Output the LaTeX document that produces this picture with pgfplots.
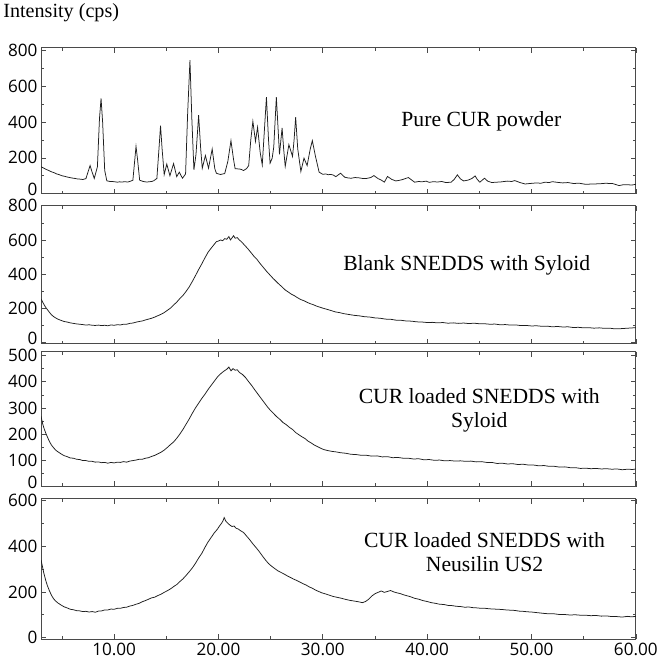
\documentclass[border=0pt]{standalone}
\usepackage{fontspec}
\setmainfont{Liberation Serif}
\newfontfamily\labelfont{Liberation Serif}
\newfontfamily\tickfont{Open Sans}
\usepackage{pgfplots}
\pgfplotsset{compat=1.18}
\definecolor{frame}{HTML}{4A4A4A}
\definecolor{trace}{HTML}{1E1E1E}

\newcommand{\zerolabel}{\raisebox{4pt}[\height][\depth]{0}}

\pgfplotsset{
  xrdpanel/.style={
    scale only axis, width=591pt, anchor=north west,
    xmin=3, xmax=60,
    xtick={10,20,...,60}, minor xtick={5,15,...,55},
    xticklabels={},
    major tick length=5pt, minor tick length=3pt,
    every tick/.style={frame, line width=0.6pt},
    axis line style={frame, line width=1pt},
    ticklabel style={font=\tickfont\fontsize{17}{17}\selectfont},
    /pgf/number format/assume math mode=true,
    minor y tick num=1,
  },
  xrdline/.style={trace, line width=0.75pt, no markers, sharp plot},
}
\tikzset{panellabel/.style={font=\labelfont\fontsize{21.5}{24}\selectfont, align=center}}

\begin{document}
\begin{tikzpicture}
\node[anchor=west, font=\labelfont\fontsize{20}{22}\selectfont] at (-41pt,35pt) {Intensity (cps)};

% Pure CUR powder
\begin{axis}[xrdpanel, at={(0,0)}, height=145pt, ymin=0, ymax=815,
  ytick={0,200,...,800}, yticklabels={\zerolabel,200,400,600,800}]
\addplot[xrdline] coordinates {
(3,150) (3.25,143) (3.5,135) (3.75,129) (4,122) (4.25,117) (4.5,110) (4.75,106) (5,100)
(5.25,97) (5.5,93) (5.75,90) (6,87) (6.25,85) (6.5,82) (6.75,81) (7,79) (7.3,84)
(7.55,130) (7.7,157) (7.85,128) (8.1,85) (8.4,150) (8.6,420) (8.75,532) (8.9,400) (9.1,130)
(9.3,72) (9.6,68) (10,67) (10.3,64) (10.5,66) (10.8,65) (11,67) (11.3,65) (11.5,68) (11.8,75)
(12.0,200) (12.1,264) (12.25,190) (12.45,75) (12.8,68) (13.1,65) (13.3,66) (13.6,68)
(13.8,72) (14.1,85) (14.3,250) (14.45,380) (14.6,250) (14.8,107) (15.05,165) (15.35,100)
(15.7,168) (16.0,95) (16.25,120) (16.55,86) (16.85,110) (17.05,450) (17.27,745) (17.45,420)
(17.65,133) (17.85,220) (18.1,438) (18.3,250) (18.45,142) (18.75,213) (19.05,142) (19.4,249)
(19.65,140) (19.8,114) (20.0,110) (20.2,107) (20.4,110) (20.6,112) (20.9,180) (21.2,296)
(21.45,190) (21.6,139) (22.0,138) (22.2,135) (22.4,129) (22.7,140) (22.9,157) (23.1,300)
(23.3,404) (23.55,292) (23.75,371) (24.0,230) (24.2,161) (24.4,350) (24.6,539) (24.8,300)
(24.95,170) (25.15,198) (25.3,260) (25.55,539) (25.7,380) (25.85,219) (26.1,367) (26.25,250)
(26.4,152) (26.75,274) (27.1,208) (27.25,300) (27.4,427) (27.6,250) (27.9,124) (28.2,198)
(28.5,157) (28.8,250) (29.0,296) (29.3,208) (29.65,120) (30.0,108) (30.3,110) (30.5,106)
(30.8,107) (31.0,104) (31.25,95) (31.7,114) (32.1,92) (32.4,88) (32.7,86) (33.1,90)
(33.5,88) (33.9,84) (34.2,85) (34.6,90) (34.9,101) (35.3,84) (35.6,76) (35.9,64) (36.2,96)
(36.6,80) (37.0,71) (37.3,74) (37.6,78) (38.2,90) (38.8,64) (39.2,68) (39.5,66) (39.9,70)
(40.2,63) (40.6,67) (41.0,65) (41.4,68) (41.8,62) (42.3,64) (42.6,80) (42.9,105) (43.2,82)
(43.5,71) (43.95,76) (44.3,85) (44.6,99) (44.8,80) (45.05,64) (45.5,86) (45.8,70) (46.2,62)
(46.6,64) (47.0,65) (47.4,68) (47.7,70) (48.1,68) (48.4,73) (48.9,62) (49.4,54) (49.9,57)
(50.5,60) (50.9,58) (51.3,64) (51.7,62) (52.0,67) (52.5,63) (53.0,60) (53.5,62) (54.0,57)
(54.6,58) (55.2,52) (55.8,54) (56.5,55) (57.1,58) (57.8,56) (58.4,45) (58.8,50) (59.2,50)
(59.6,48) (60,52)
};
\node[panellabel] at (axis cs:45.2,405) {Pure CUR powder};
\end{axis}

% Blank SNEDDS with Syloid
\begin{axis}[xrdpanel, at={(0,-157pt)}, height=137pt, ymin=-5, ymax=800,
  ytick={0,200,...,800}, yticklabels={\zerolabel,200,400,600,800}]
\addplot[xrdline] coordinates {
(3.0,255) (3.15,238) (3.3,221) (3.45,206) (3.6,194) (3.8,178) (4.0,163) (4.2,153) (4.4,145)
(4.6,138) (4.9,131) (5.2,124) (5.5,121) (5.8,116) (6.1,113) (6.4,110) (6.7,108) (7.0,106)
(7.3,103) (7.6,105) (7.9,102) (8.2,101) (8.5,103) (8.8,100) (9.1,102) (9.4,99) (9.7,104)
(10.0,102) (10.3,105) (10.6,104) (10.9,108) (11.2,108) (11.5,113) (11.8,115) (12.1,120)
(12.4,124) (12.7,127) (13.0,133) (13.3,138) (13.6,143) (13.9,150) (14.2,158) (14.5,166)
(14.8,176) (15.1,189) (15.4,202) (15.7,220) (16.0,237) (16.3,258) (16.6,276) (16.9,300)
(17.2,326) (17.5,358) (17.8,392) (18.1,427) (18.4,460) (18.7,495) (19.0,528) (19.3,552)
(19.6,575) (19.8,590) (20.0,594) (20.2,600) (20.4,596) (20.6,608) (20.8,604) (21.0,620)
(21.15,600) (21.3,612) (21.45,625) (21.6,610) (21.8,614) (22.0,600) (22.2,590) (22.5,570)
(22.8,550) (23.1,528) (23.4,505) (23.7,486) (24.0,462) (24.3,440) (24.6,418) (24.9,398)
(25.2,378) (25.5,360) (25.8,342) (26.1,326) (26.4,308) (26.7,296) (27.0,283) (27.3,274)
(27.6,262) (27.9,252) (28.2,245) (28.5,236) (28.8,228) (29.1,222) (29.4,214) (29.7,208)
(30.0,202) (30.4,195) (30.8,188) (31.2,180) (31.6,176) (32.0,170) (32.5,165) (33.0,160)
(33.5,157) (34.0,152) (34.5,150) (35.0,145) (35.5,143) (36.0,138) (36.5,137) (37.0,132)
(37.5,131) (38.0,127) (38.5,126) (39.0,122) (39.5,121) (40.0,118) (40.5,119) (41.0,116)
(41.5,118) (42.0,114) (42.5,116) (43.0,113) (43.5,115) (44.0,112) (44.5,114) (45.0,111)
(45.5,111) (46.0,108) (46.5,109) (47.0,105) (47.5,106) (48.0,103) (48.5,104) (49.0,100)
(49.5,101) (50.0,98) (50.5,99) (51.0,96) (51.5,97) (52.0,93) (52.5,95) (53.0,92) (53.5,93)
(54.0,89) (54.5,90) (55.0,87) (55.5,88) (56.0,85) (56.5,87) (57.0,84) (57.5,85) (58.0,81)
(58.5,82) (59.0,84) (59.5,86) (60,88)
};
\node[panellabel] at (axis cs:43.8,453) {Blank SNEDDS with Syloid};
\end{axis}

% CUR loaded SNEDDS with Syloid
\begin{axis}[xrdpanel, at={(0,-302pt)}, height=134pt, ymin=0, ymax=515,
  ytick={0,100,...,500}, yticklabels={\zerolabel,100,200,300,400,500}]
\addplot[xrdline] coordinates {
(3.0,268) (3.15,240) (3.3,220) (3.45,204) (3.6,190) (3.8,172) (4.0,158) (4.2,148) (4.4,139)
(4.6,133) (4.9,125) (5.2,118) (5.5,114) (5.8,109) (6.1,108) (6.4,104) (6.7,103) (7.0,99)
(7.3,99) (7.6,96) (7.9,96) (8.2,93) (8.5,94) (8.8,91) (9.1,92) (9.4,89) (9.7,92) (10.0,90)
(10.3,93) (10.6,92) (10.9,95) (11.2,93) (11.5,97) (11.8,99) (12.1,101) (12.4,104) (12.7,104)
(13.0,108) (13.3,110) (13.6,115) (13.9,119) (14.2,125) (14.5,131) (14.8,139) (15.1,149)
(15.4,160) (15.7,170) (16.0,184) (16.3,200) (16.6,218) (16.9,238) (17.2,258) (17.5,280)
(17.8,300) (18.1,318) (18.4,336) (18.7,352) (19.0,370) (19.3,386) (19.6,402) (19.9,418)
(20.2,430) (20.5,440) (20.8,448) (21.0,456) (21.2,442) (21.4,450) (21.6,444) (21.8,446)
(22.0,436) (22.3,428) (22.6,416) (22.9,400) (23.2,385) (23.5,368) (23.8,352) (24.1,336)
(24.4,320) (24.7,304) (25.0,290) (25.3,278) (25.6,266) (25.9,256) (26.2,244) (26.5,236)
(26.8,226) (27.1,218) (27.4,206) (27.7,198) (28.0,190) (28.3,183) (28.6,173) (28.9,166)
(29.2,158) (29.5,152) (29.8,146) (30.1,141) (30.5,137) (30.9,134) (31.3,132) (31.7,129)
(32.2,127) (32.7,123) (33.2,122) (33.7,119) (34.2,119) (34.7,116) (35.2,117) (35.7,113)
(36.2,114) (36.7,110) (37.2,111) (37.7,108) (38.2,108) (38.7,105) (39.2,106) (39.7,102)
(40.2,103) (40.7,100) (41.2,101) (41.7,98) (42.2,99) (42.7,97) (43.2,98) (43.7,96) (44.2,97)
(44.7,94) (45.2,95) (45.7,92) (46.2,92) (46.7,88) (47.2,89) (47.7,86) (48.2,87) (48.7,84)
(49.2,85) (49.7,82) (50.2,82) (50.7,79) (51.2,80) (51.7,77) (52.2,77) (52.7,74) (53.2,75)
(53.7,72) (54.2,72) (54.7,69) (55.2,70) (55.7,68) (56.2,69) (56.7,67) (57.2,68) (57.7,66)
(58.2,67) (58.7,64) (59.2,66) (59.7,65) (60,67)
};
\node[panellabel] at (axis cs:45.0,290) {CUR loaded SNEDDS with\\Syloid};
\end{axis}

% CUR loaded SNEDDS with Neusilin US2
\begin{axis}[xrdpanel, at={(0,-448pt)}, height=140pt, ymin=-8, ymax=608,
  ytick={0,200,...,600}, yticklabels={0,200,400,600},
  xticklabels={10.00,20.00,30.00,40.00,50.00,60.00}]
\addplot[xrdline] coordinates {
(3.0,340) (3.1,318) (3.25,285) (3.45,250) (3.6,228) (3.8,205) (4.0,185) (4.2,170) (4.4,160)
(4.6,152) (4.9,143) (5.2,135) (5.5,130) (5.8,124) (6.1,122) (6.4,118) (6.7,117) (7.0,114)
(7.3,115) (7.6,112) (7.9,114) (8.2,111) (8.5,116) (8.8,117) (9.1,121) (9.4,121) (9.7,125)
(10.0,124) (10.3,128) (10.6,128) (10.9,132) (11.2,133) (11.5,138) (11.8,141) (12.1,146)
(12.4,150) (12.7,157) (13.0,162) (13.3,168) (13.6,174) (13.9,177) (14.2,184) (14.5,190)
(14.8,198) (15.1,205) (15.4,213) (15.7,223) (16.0,232) (16.3,245) (16.6,257) (16.9,272)
(17.2,288) (17.5,305) (17.8,325) (18.1,348) (18.4,368) (18.7,394) (19.0,418) (19.3,438)
(19.6,458) (19.9,474) (20.1,488) (20.3,500) (20.45,512) (20.55,525) (20.7,510) (20.9,500)
(21.1,492) (21.3,486) (21.5,488) (21.7,478) (21.9,475) (22.1,468) (22.4,460) (22.7,444)
(23.0,428) (23.3,410) (23.6,394) (23.9,377) (24.2,358) (24.5,340) (24.8,324) (25.1,312)
(25.4,302) (25.7,292) (26.0,285) (26.3,278) (26.6,270) (26.9,263) (27.2,256) (27.5,250)
(27.8,243) (28.1,236) (28.4,230) (28.7,222) (29.0,216) (29.3,208) (29.6,202) (29.9,196)
(30.2,192) (30.6,186) (31.0,180) (31.4,176) (31.8,172) (32.2,167) (32.6,163) (33.0,160)
(33.4,157) (33.8,153) (34.1,158) (34.4,168) (34.7,182) (35.0,192) (35.3,198) (35.6,204)
(35.9,198) (36.2,202) (36.5,206) (36.8,200) (37.1,196) (37.4,193) (37.7,188) (38.0,184)
(38.4,179) (38.8,172) (39.2,168) (39.6,162) (40.0,158) (40.4,153) (40.8,150) (41.2,146)
(41.6,145) (42.0,141) (42.4,140) (42.8,137) (43.2,136) (43.6,133) (44.0,134) (44.4,131)
(44.8,130) (45.2,128) (45.6,128) (46.0,126) (46.4,125) (46.8,124) (47.2,123) (47.6,121)
(48.0,120) (48.4,119) (48.8,116) (49.2,115) (49.6,113) (50.0,112) (50.4,110) (50.8,108)
(51.2,106) (51.7,104) (52.2,104) (52.7,101) (53.2,101) (53.7,99) (54.2,100) (54.7,98)
(55.2,98) (55.7,96) (56.2,97) (56.7,94) (57.2,95) (57.7,92) (58.2,92) (58.7,90) (59.2,93)
(59.6,91) (60,93)
};
\node[panellabel] at (axis cs:45.5,373) {CUR loaded SNEDDS with\\Neusilin US2};
\end{axis}
\end{tikzpicture}
\end{document}
